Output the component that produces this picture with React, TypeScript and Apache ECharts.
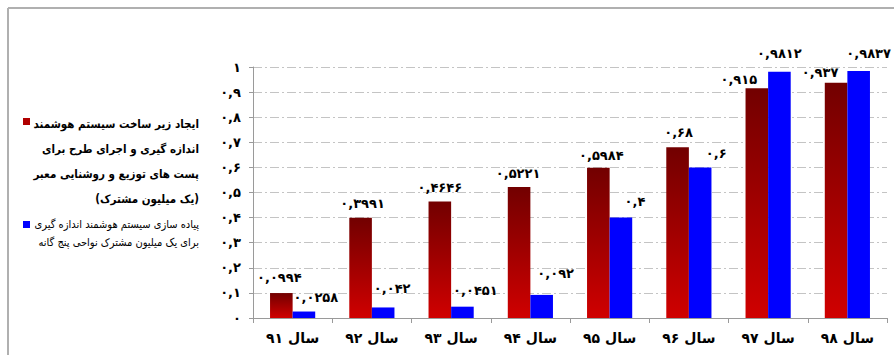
import React, { useEffect, useRef } from "react";
import * as echarts from "echarts";

const categories = ["سال ۹۱", "سال ۹۲", "سال ۹۳", "سال ۹۴", "سال ۹۵", "سال ۹۶", "سال ۹۷", "سال ۹۸"];
const seriesRedName = "ایجاد زیر ساخت سیستم هوشمند اندازه گیری و اجرای طرح برای پست های توزیع و روشنایی معبر (یک میلیون مشترک)";
const seriesBlueName = "پیاده سازی سیستم هوشمند اندازه گیری برای یک میلیون مشترک نواحی پنج گانه";
const redValues = [0.0994, 0.3991, 0.4646, 0.5221, 0.5984, 0.68, 0.915, 0.937];
const blueValues = [0.0258, 0.042, 0.0451, 0.092, 0.4, 0.6, 0.9812, 0.9837];
const legendRedLines = ["ایجاد زیر ساخت سیستم هوشمند", "اندازه گیری و اجرای طرح برای", "پست های توزیع و روشنایی معبر", "(یک میلیون مشترک)"];
const legendBlueLines = ["پیاده سازی سیستم هوشمند اندازه گیری", "برای یک میلیون مشترک نواحی پنج گانه"];

// label nudges (style only)
const redLabelOffsets = [[-2, -9], [2, -8], [0, -7], [-1, -7], [3, -6], [1, -8], [-18, -2], [-16, -4]];
const blueLabelOffsets = [[12, -8], [9, -12], [13, -10], [14, -15], [14, -10], [16, -7], [0, -12], [10, -11]];

const faDigits = "۰۱۲۳۴۵۶۷۸۹";
function toFa(s: string): string {
  return s.replace(/[0-9]/g, (d) => faDigits[Number(d)]).replace(/\./g, ",");
}

const FONT = "'DejaVu Sans', sans-serif";
const LEGEND_FONT = "'DejaVu Sans Condensed', 'DejaVu Sans', sans-serif";

export default function App() {
  const ref = useRef<HTMLDivElement>(null);
  useEffect(() => {
    if (!ref.current) return;
    const chart = echarts.init(ref.current, null, { renderer: "svg" });
    const labelBase = {
      show: true,
      position: "top",
      distance: 0,
      color: "#000",
      fontFamily: FONT,
      fontWeight: "bold",
      fontSize: 13,
      formatter: (p: any) => toFa(String(p.value)),
    };
    chart.setOption({
      animation: false,
      backgroundColor: "#fff",
      grid: { left: 253, right: 7, top: 67, bottom: 37, containLabel: false },
      xAxis: {
        type: "category",
        data: categories,
        axisLine: { show: true, lineStyle: { color: "#9a9a9a", width: 1 } },
        axisTick: { show: true, length: 5, lineStyle: { color: "#9a9a9a" } },
        axisLabel: { color: "#000", fontFamily: FONT, fontWeight: "bold", fontSize: 14, margin: 13 },
      },
      yAxis: {
        type: "value",
        min: 0,
        max: 1,
        interval: 0.1,
        axisLine: { show: true, lineStyle: { color: "#9a9a9a", width: 1 } },
        axisTick: { show: true, length: 4, lineStyle: { color: "#9a9a9a" } },
        axisLabel: {
          color: "#000",
          fontFamily: FONT,
          fontWeight: "bold",
          fontSize: 13,
          margin: 12,
          formatter: (v: number) => toFa(String(Math.round(v * 10) / 10)),
        },
        splitLine: { show: true, lineStyle: { color: "#c4c4c4", width: 1, type: [9, 3, 2, 3] } },
      },
      series: [
        {
          name: seriesRedName,
          type: "bar",
          barGap: "0%",
          barCategoryGap: "43%",
          itemStyle: {
            color: new echarts.graphic.LinearGradient(0, 0, 0, 1, [
              { offset: 0, color: "#720000" },
              { offset: 1, color: "#d00000" },
            ]),
          },
          data: redValues.map((v, i) => ({ value: v, label: { offset: redLabelOffsets[i] } })),
          label: labelBase,
        },
        {
          name: seriesBlueName,
          type: "bar",
          barGap: "0%",
          barCategoryGap: "43%",
          itemStyle: { color: "#0000ff" },
          data: blueValues.map((v, i) => ({ value: v, label: { offset: blueLabelOffsets[i] } })),
          label: labelBase,
        },
      ],
      graphic: [
        { type: "line", shape: { x1: 8, y1: 8, x2: 894, y2: 8 }, style: { stroke: "#b0b0b0", lineWidth: 2 } },
        { type: "line", shape: { x1: 8, y1: 8, x2: 8, y2: 355 }, style: { stroke: "#b0b0b0", lineWidth: 2 } },
        { type: "rect", shape: { x: 23, y: 118, width: 7, height: 7 }, style: { fill: "#b00000" } },
        {
          type: "text",
          x: 199,
          y: 111,
          style: {
            text: legendRedLines.join("\n"),
            align: "right",
            verticalAlign: "top",
            fontFamily: LEGEND_FONT,
            fontWeight: "bold",
            fontSize: 11.5,
            lineHeight: 25,
            fill: "#000",
          },
        },
        { type: "rect", shape: { x: 23, y: 221, width: 7, height: 7 }, style: { fill: "#0000ff" } },
        {
          type: "text",
          x: 199,
          y: 215,
          style: {
            text: legendBlueLines.join("\n"),
            align: "right",
            verticalAlign: "top",
            fontFamily: LEGEND_FONT,
            fontSize: 11,
            lineHeight: 18,
            fill: "#000",
          },
        },
      ],
    });
    return () => chart.dispose();
  }, []);
  return <div ref={ref} style={{ position: "fixed", left: 0, top: 0, width: 894, height: 355 }} />;
}
